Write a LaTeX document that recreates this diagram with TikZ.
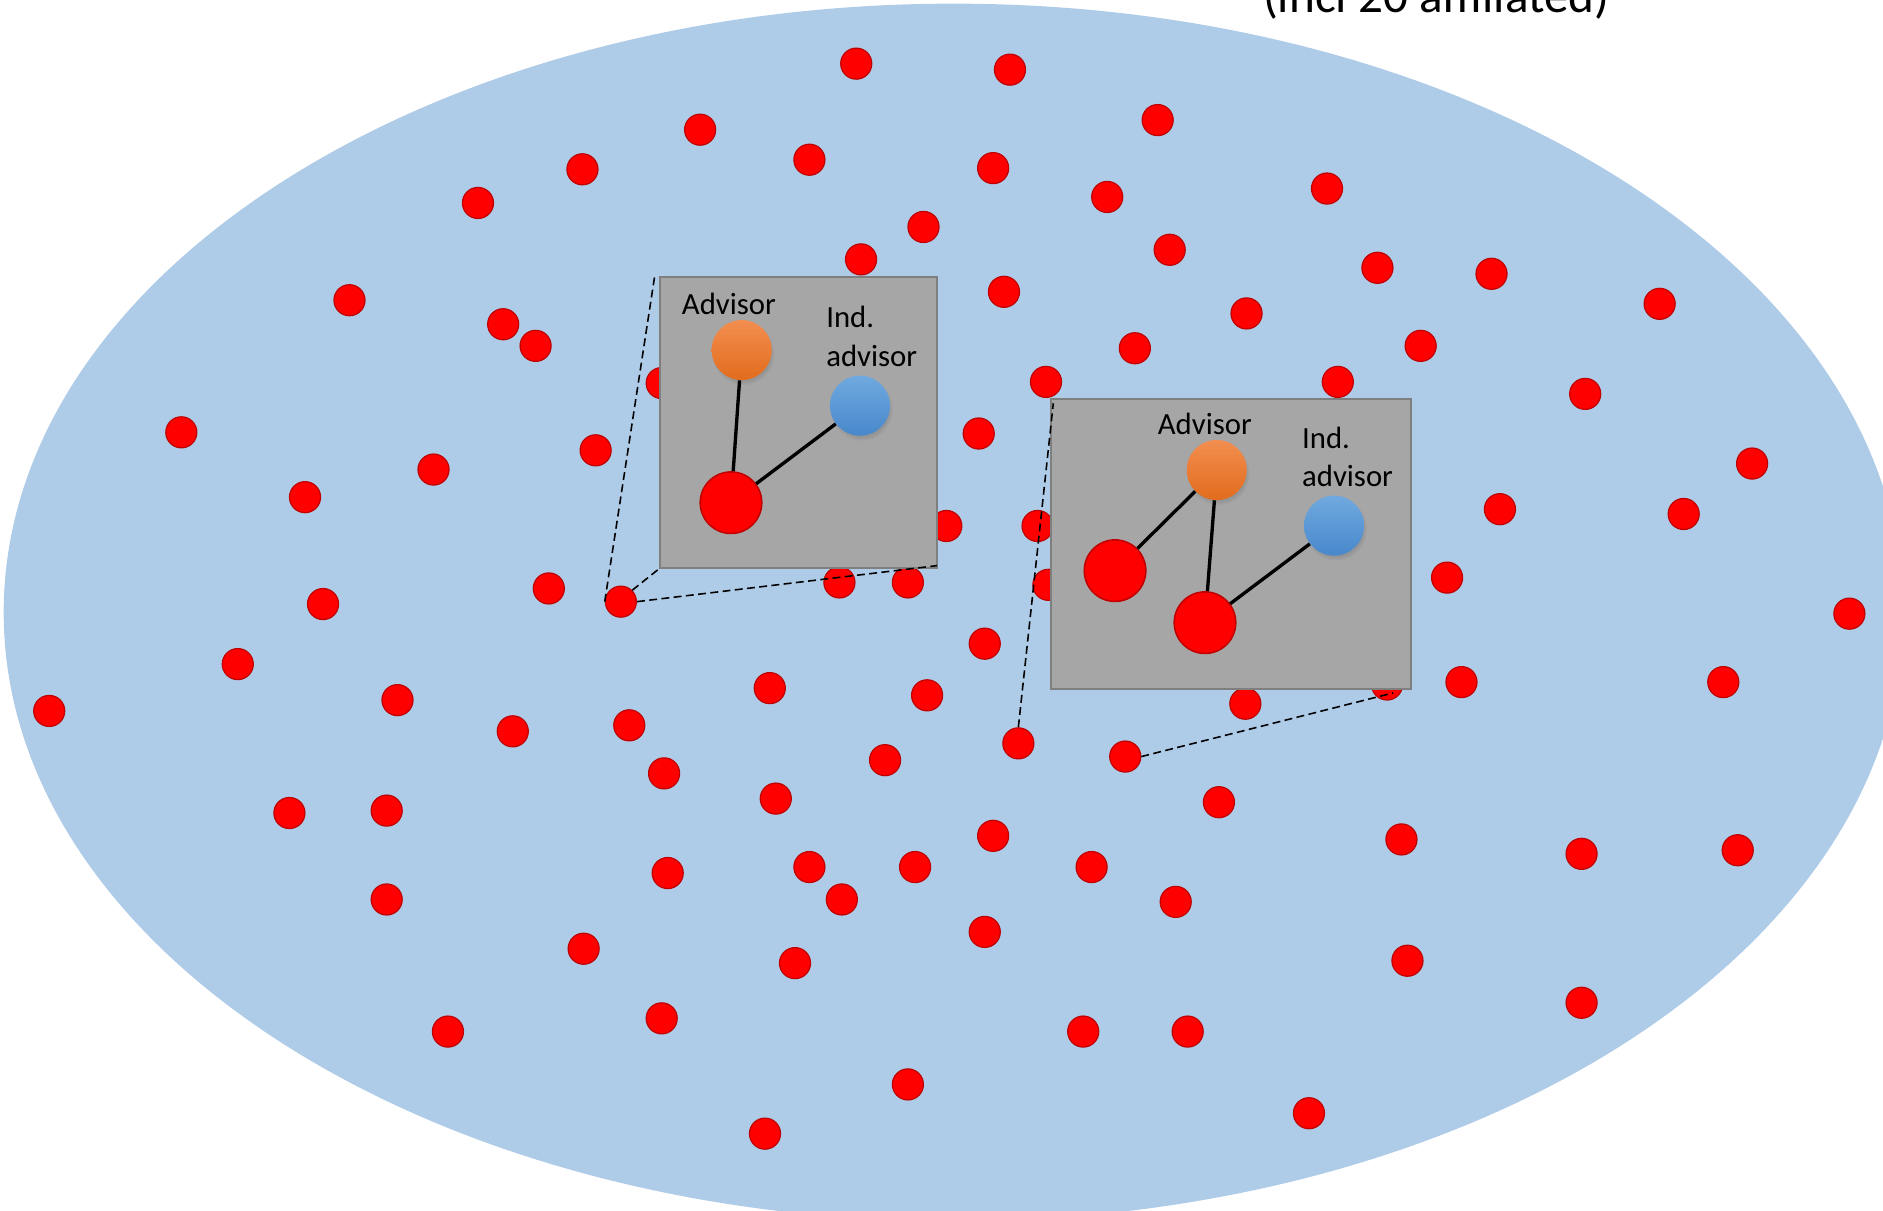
\documentclass[tikz,border=0pt]{standalone}
\usepackage{fontspec}
\setmainfont{Carlito}
\usetikzlibrary{shadows}
\definecolor{bgblue}{HTML}{AECBE8}
\definecolor{dotred}{HTML}{FF0000}
\definecolor{dotedge}{HTML}{C00000}
\definecolor{insetfill}{HTML}{A6A6A6}
\definecolor{insetedge}{HTML}{7F7F7F}
\definecolor{orangetop}{HTML}{F28E50}
\definecolor{orangebot}{HTML}{E26C1C}
\definecolor{bluetop}{HTML}{70A9DF}
\definecolor{bluebot}{HTML}{4888CB}
\tikzset{
  dot/.style={circle, fill=dotred, draw=dotedge, line width=0.7pt, minimum size=0.62cm, inner sep=0pt},
  bigdot/.style={circle, fill=dotred, draw=dotedge, line width=0.9pt, minimum size=1.23cm, inner sep=0pt},
  advdot/.style={circle, draw=none, minimum size=1.2cm, inner sep=0pt, shading=axis, top color=orangetop, bottom color=orangebot,
    circular drop shadow={shadow xshift=0.03cm, shadow yshift=-0.07cm, opacity=0.45, shadow scale=1.05}},
  inddot/.style={circle, draw=none, minimum size=1.2cm, inner sep=0pt, shading=axis, top color=bluetop, bottom color=bluebot,
    circular drop shadow={shadow xshift=0.03cm, shadow yshift=-0.07cm, opacity=0.45, shadow scale=1.05}},
  inset/.style={fill=insetfill, draw=insetedge, line width=1.2pt},
  link/.style={line width=1.9pt, black},
  zoomline/.style={line width=0.9pt, black, dash pattern=on 4.5pt off 2.5pt},
  lbl/.style={font=\fontsize{17.5}{21}\selectfont, inner sep=0pt},
  toplbl/.style={font=\fontsize{28}{33}\selectfont, inner sep=0pt}
}
\begin{document}
\begin{tikzpicture}[x=0.024cm, y=-0.024cm]
\useasboundingbox (0,0) rectangle (1568,1008);
% population
\fill[bgblue] (794,510) ellipse [x radius=18.984cm, y radius=12.168cm];
\node[toplbl, anchor=base] (title) at (1196,10.5) {(incl 20 affiliated)};
% dots
\foreach \px/\py [count=\i] in {
  713/53, 841/58, 964/100, 583/108, 674/133, 827/140, 485/141, 922/164, 1105/157,
  398/169, 769/189, 717/216, 974/208, 1147/223, 1242/228, 291/250, 836/243,
  419/270, 446/288, 1038/261, 1382/253, 945/290, 1183/288, 871/318, 1114/318,
  1320/328, 551/319, 151/360, 815/361, 361/391, 496/375, 254/414, 1459/386,
  1402/428, 1249/424, 788/438, 864/438, 269/503, 457/490, 699/485, 756/485,
  873/487, 1205/481, 1540/511, 820/536, 198/553, 41/592, 331/583, 427/609,
  524/604, 641/573, 772/579, 1037/586, 1155/570, 1217/568, 1435/568, 553/644,
  737/633, 646/665, 1015/668, 241/677, 322/675, 827/696, 1167/699, 1317/711,
  1447/708, 556/727, 674/722, 762/722, 909/722, 701/749, 979/751, 322/749,
  820/776, 486/790, 662/802, 1172/800, 1317/835, 373/859, 551/848, 902/859,
  989/859, 756/903, 1090/927, 637/944}
  \node[dot] (d\i) at (\px,\py) {};
\node[dot] (za) at (517,501) {};
\node[dot] (zb) at (848,619) {};
\node[dot] (zc) at (937,630) {};
% inset 1
\draw[inset] (549.6,230.4) rectangle (780.3,473);
\coordinate (i1tl) at (545,231);
\coordinate (i1bl) at (549.6,473);
\coordinate (i1br) at (780.3,471);
\node[advdot] (a1) at (617.6,291.5) {};
\node[inddot] (b1) at (716.1,337.8) {};
\node[bigdot] (r1) at (608.7,418.6) {};
\draw[link] (a1) -- (r1);
\draw[link] (b1) -- (r1);
\node[lbl, anchor=base] (la1) at (607,262) {Advisor};
\node[lbl, anchor=base west] (li1) at (687.8,273) {Ind.};
\node[lbl, anchor=base west] (lj1) at (687.8,304.8) {advisor};
% inset 2
\draw[inset] (874.9,332.3) rectangle (1175,573.7);
\coordinate (i2tl) at (877.1,335.8);
\coordinate (i2br) at (1160.2,577);
\node[advdot] (a2) at (1013.2,391.4) {};
\node[inddot] (b2) at (1110.9,437.7) {};
\node[bigdot] (r2) at (928.5,475.2) {};
\node[bigdot] (r3) at (1003.4,518.5) {};
\draw[link] (a2) -- (r2);
\draw[link] (a2) -- (r3);
\draw[link] (b2) -- (r3);
\node[lbl, anchor=base] (la2) at (1003.3,361.7) {Advisor};
\node[lbl, anchor=base west] (li2) at (1084,373.3) {Ind.};
\node[lbl, anchor=base west] (lj2) at (1084,404.7) {advisor};
% zoom lines
\draw[zoomline] (za.west) -- (i1tl);
\draw[zoomline] (za.north east) -- (i1bl);
\draw[zoomline] (za.east) -- (i1br);
\draw[zoomline] (zb.north) -- (i2tl);
\draw[zoomline] (zc.east) -- (i2br);
\end{tikzpicture}
\end{document}
